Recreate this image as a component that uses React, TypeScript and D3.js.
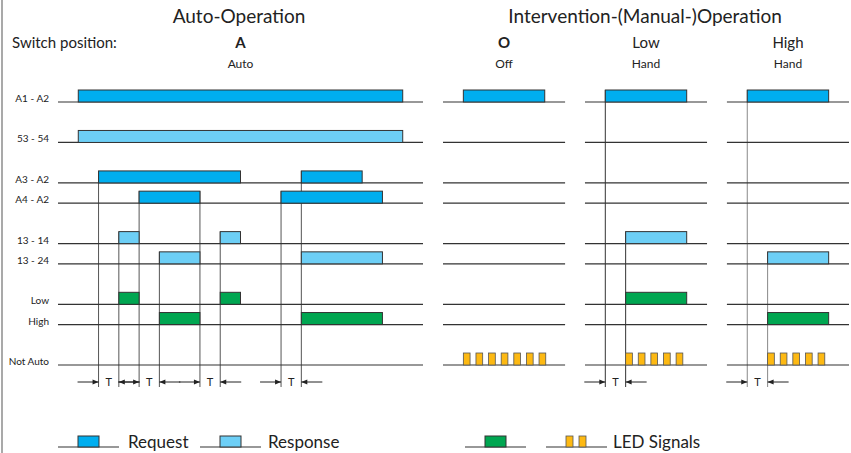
import { useRef, useEffect } from "react";
import * as d3 from "d3";

// signal rows, slot = vertical position in row units (gaps between groups)
const rowLabels = ["A1 - A2", "53 - 54", "A3 - A2", "A4 - A2", "13 - 14", "13 - 24", "Low", "High", "Not Auto"];
const rowSlots = [0, 2, 4, 5, 7, 8, 10, 11, 13];
const rowKinds = ["request", "response", "request", "request", "response", "response", "relay", "relay", "led"];

// auto section: [start, end] in time units
const autoPulses = [
  [[0, 16]],
  [[0, 16]],
  [[1, 8], [11, 14]],
  [[3, 6], [10, 15]],
  [[2, 3], [7, 8]],
  [[4, 6], [11, 15]],
  [[2, 3], [7, 8]],
  [[4, 6], [11, 15]],
  [],
];
const autoMarkers = [
  { t: 1, row: 2 }, { t: 2, row: 4 }, { t: 3, row: 3 }, { t: 4, row: 5 },
  { t: 6, row: 3 }, { t: 7, row: 4 }, { t: 10, row: 3 }, { t: 11, row: 2 },
];
const autoDelays = [[1, 2], [3, 4], [6, 7], [10, 11]];

// manual sections
const manualNames = ["O", "Low", "High"];
const manualSubs = ["Off", "Hand", "Hand"];
const manualPulses = [
  [[[0, 4]], [], [], [], [], [], [], [], []],
  [[[0, 4]], [], [], [], [[1, 4]], [], [[1, 4]], [], []],
  [[[0, 4]], [], [], [], [], [[1, 4]], [], [[1, 4]], []],
];
const manualLeds = [
  [0, 0.62, 1.24, 1.86, 2.48, 3.1, 3.72],
  [1, 1.62, 2.24, 2.86, 3.48],
  [1, 1.62, 2.24, 2.86, 3.48],
];
const manualMarkers = [
  [],
  [{ t: 0, row: 0 }, { t: 1, row: 4 }],
  [{ t: 0, row: 0 }, { t: 1, row: 5 }],
];
const manualDelays = [[], [[0, 1]], [[0, 1]]];

const legendLabels = ["Request", "Response", "", "LED Signals"];
const legendKinds = ["request", "response", "relay", "led"];

const fills: Record<string, string> = {
  request: "#00aeef",
  response: "#6dcff6",
  relay: "#00a651",
  led: "#fdb913",
};

const FONT = "Lato, 'Open Sans', sans-serif";

export default function App() {
  const svgRef = useRef<SVGSVGElement>(null);

  useEffect(() => {
    if (!svgRef.current) return;
    document.body.style.margin = "0";
    const svg = d3.select(svgRef.current);
    svg.selectAll("*").remove();

    const width = 851;
    const height = 453;
    const barH = 12;
    const ledW = 0.33;

    svg.attr("width", width).attr("height", height).style("font-family", FONT);

    svg.append("rect").attr("width", width).attr("height", height).attr("fill", "#fff");
    // left border strip
    svg.append("rect").attr("x", 1).attr("y", 0).attr("width", 2).attr("height", height).attr("fill", "#a9a9a9");

    const y = d3.scaleLinear().domain([0, 13]).range([102, 365]);
    const rowY = (i: number) => y(rowSlots[i]);

    const xAuto = d3.scaleLinear().domain([-1, 17]).range([58, 423]);
    const band = d3.scaleBand<number>().domain([0, 1, 2]).range([443, 849]).paddingInner(0.14);
    const xManual = [0, 1, 2].map((k) =>
      d3.scaleLinear().domain([-1, 5]).range([band(k)!, band(k)! + band.bandwidth()])
    );

    // titles
    const title = svg.append("g").attr("fill", "#222");
    title.append("text").attr("x", 239).attr("y", 23).attr("text-anchor", "middle")
      .style("font-size", "19px").text("Auto-Operation");
    title.append("text").attr("x", 645).attr("y", 23).attr("text-anchor", "middle")
      .style("font-size", "19px").text("Intervention-(Manual-)Operation");
    title.append("text").attr("x", 12).attr("y", 48).style("font-size", "15px").text("Switch position:");

    const heads = [
      { x: xAuto(8), name: "A", sub: "Auto" },
      ...manualNames.map((n, k) => ({ x: xManual[k](2), name: n, sub: manualSubs[k] })),
    ];
    heads.forEach((h) => {
      const bold = h.name.length === 1;
      title.append("text").attr("x", h.x).attr("y", 48).attr("text-anchor", "middle")
        .style("font-size", "15px").style("font-weight", bold ? "700" : "400").text(h.name);
      title.append("text").attr("x", h.x).attr("y", 68).attr("text-anchor", "middle")
        .style("font-size", "12px").text(h.sub);
    });

    // row labels
    svg.append("g").selectAll("text").data(rowLabels).join("text")
      .attr("x", 49).attr("y", (_, i) => rowY(i))
      .attr("text-anchor", "end").attr("fill", "#222")
      .style("font-size", "10px").text((d) => d);

    const drawSection = (
      x: d3.ScaleLinear<number, number>,
      pulses: number[][][],
      leds: number[],
      markers: { t: number; row: number }[],
      delays: number[][],
      markerColor: string
    ) => {
      const g = svg.append("g");
      const [d0, d1] = x.domain();

      // vertical timing markers
      g.selectAll(".marker").data(markers).join("line")
        .attr("x1", (d) => x(d.t)).attr("x2", (d) => x(d.t))
        .attr("y1", (d) => rowY(d.row) - barH).attr("y2", 387)
        .attr("stroke", markerColor).attr("stroke-width", 1);

      // baselines
      g.selectAll(".base").data(rowLabels).join("line")
        .attr("x1", x(d0)).attr("x2", x(d1))
        .attr("y1", (_, i) => rowY(i)).attr("y2", (_, i) => rowY(i))
        .attr("stroke", "#333").attr("stroke-width", 1.2);

      // bars
      const bars = pulses.flatMap((list, i) => list.map((p) => ({ row: i, s: p[0], e: p[1] })));
      g.selectAll(".bar").data(bars).join("rect")
        .attr("x", (d) => x(d.s)).attr("y", (d) => rowY(d.row) - barH)
        .attr("width", (d) => x(d.e) - x(d.s)).attr("height", barH)
        .attr("fill", (d) => fills[rowKinds[d.row]])
        .attr("stroke", "#333").attr("stroke-width", 1);

      // LED blinks
      const ledRow = rowKinds.indexOf("led");
      g.selectAll(".led").data(leds).join("rect")
        .attr("x", (d) => x(d)).attr("y", rowY(ledRow) - barH)
        .attr("width", (d) => x(d + ledW) - x(d)).attr("height", barH)
        .attr("fill", fills.led).attr("stroke", "#555").attr("stroke-width", 0.8);

      // delay "T" arrows
      const ay = 382;
      const len = 21;
      delays.forEach(([a, b]) => {
        const xa = x(a);
        const xb = x(b);
        g.append("line").attr("x1", xa - len).attr("x2", xa).attr("y1", ay).attr("y2", ay)
          .attr("stroke", "#222").attr("stroke-width", 1);
        g.append("path").attr("d", `M${xa},${ay}L${xa - 6},${ay - 2.5}L${xa - 6},${ay + 2.5}Z`).attr("fill", "#222");
        g.append("line").attr("x1", xb).attr("x2", xb + len).attr("y1", ay).attr("y2", ay)
          .attr("stroke", "#222").attr("stroke-width", 1);
        g.append("path").attr("d", `M${xb},${ay}L${xb + 6},${ay - 2.5}L${xb + 6},${ay + 2.5}Z`).attr("fill", "#222");
        g.append("text").attr("x", (xa + xb) / 2).attr("y", 386).attr("text-anchor", "middle")
          .attr("fill", "#222").style("font-size", "11px").text("T");
      });
    };

    drawSection(xAuto, autoPulses, [], autoMarkers, autoDelays, "#555");
    xManual.forEach((x, k) =>
      drawSection(x, manualPulses[k], manualLeds[k], manualMarkers[k], manualDelays[k], k === 2 ? "#888" : "#333")
    );

    // legend
    const ly = 447;
    const legendStart = [58, 200, 465, 546];
    const legendText = [128, 268, 0, 613];
    legendKinds.forEach((kind, k) => {
      const x0 = legendStart[k];
      const lg = svg.append("g");
      lg.append("line").attr("x1", x0).attr("x2", x0 + 61).attr("y1", ly).attr("y2", ly)
        .attr("stroke", "#333").attr("stroke-width", 1.2);
      if (kind === "led") {
        [20, 33].forEach((dx) =>
          lg.append("rect").attr("x", x0 + dx).attr("y", ly - 11).attr("width", 7).attr("height", 11)
            .attr("fill", fills.led).attr("stroke", "#555").attr("stroke-width", 0.8)
        );
      } else {
        lg.append("rect").attr("x", x0 + 20).attr("y", ly - 11).attr("width", 21).attr("height", 11)
          .attr("fill", fills[kind]).attr("stroke", "#333").attr("stroke-width", 1);
      }
      if (legendLabels[k])
        lg.append("text").attr("x", legendText[k]).attr("y", 448).attr("fill", "#222")
          .style("font-size", "17px").text(legendLabels[k]);
    });
  }, []);

  return (
    <div style={{ position: "absolute", left: 0, top: 0 }}>
      <svg ref={svgRef} style={{ display: "block" }} />
    </div>
  );
}
